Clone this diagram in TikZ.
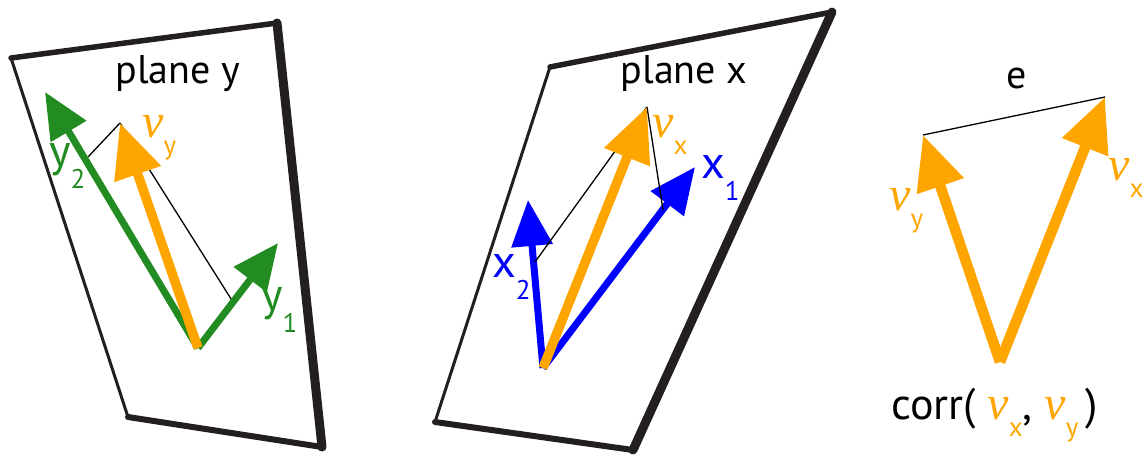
\documentclass[tikz,border=0pt]{standalone}
\usepackage{fontspec}
\setmainfont{PT Sans}
\newfontfamily\vecfont{Liberation Serif}
\usetikzlibrary{arrows.meta, positioning}
\definecolor{vorange}{RGB}{255,165,0}
\definecolor{ygreen}{RGB}{34,139,34}
\definecolor{xblue}{RGB}{0,0,255}
\definecolor{rimblack}{RGB}{35,31,32}
\tikzset{rim/.style={draw=rimblack,line cap=round,line join=round}}
\tikzset{proj/.style={draw=black,line width=1.3pt}}
\tikzset{vecg/.style={draw=ygreen,line width=7pt,-{Triangle[length=46pt,width=40pt]}}}
\tikzset{vecb/.style={draw=xblue,line width=7pt,-{Triangle[length=46pt,width=40pt]}}}
\tikzset{veco/.style={draw=vorange,line width=9.5pt,-{Triangle[length=54pt,width=47pt]}}}
\tikzset{lbl/.style={inner sep=0pt,anchor=base west}}
\newcommand{\vsub}[1]{{\vecfont\itshape\fontsize{48}{48}\selectfont v}\raisebox{-17pt}{\fontsize{27}{27}\selectfont #1}}
\newcommand{\ssub}[2]{{\fontsize{46}{46}\selectfont #1}\raisebox{-22pt}{\fontsize{27}{27}\selectfont #2}}

\begin{document}
\begin{tikzpicture}[x=1pt,y=-1pt]
\useasboundingbox (0,0) rectangle (1147,455);

% plane y
\coordinate (py1) at (11,58);
\coordinate (py2) at (277,23);
\coordinate (py3) at (322,447);
\coordinate (py4) at (128,417);
\draw[rim,line width=3pt] (py1) -- (py4);
\draw[rim,line width=5.5pt] (py1) -- (py2);
\draw[rim,line width=9pt] (py2) -- (py3);
\draw[rim,line width=6pt] (py4) -- (py3);
\node[anchor=base] at (178,83) (ty) {\fontsize{40}{40}\selectfont plane y};

\coordinate (oy) at (198,348);
\coordinate (y2) at (45,92);
\coordinate (y1) at (278,243);
\coordinate (vy) at (120,123);
\coordinate (fy2) at (88,157);
\coordinate (fy1) at (233,302);
\draw[proj] (vy) -- (fy2);
\draw[proj] (vy) -- (fy1);
\draw[vecg] (oy) -- (y2);
\draw[vecg] (oy) -- (y1);
\draw[veco] (oy) -- (vy);
\node[lbl,text=vorange] at (142,137) (lvy) {\vsub{y}};
\node[lbl,text=ygreen] at (49,166) (ly2) {\ssub{y}{2}};
\node[lbl,text=ygreen] at (261,310) (ly1) {\ssub{y}{1}};

% plane x
\coordinate (px1) at (550,67);
\coordinate (px2) at (832,12);
\coordinate (px3) at (633,450);
\coordinate (px4) at (435,422);
\draw[rim,line width=3pt] (px1) -- (px4);
\draw[rim,line width=5.5pt] (px1) -- (px2);
\draw[rim,line width=9pt] (px2) -- (px3);
\draw[rim,line width=6pt] (px4) -- (px3);
\node[anchor=base] at (684,83) (tx) {\fontsize{40}{40}\selectfont plane x};

\coordinate (ox) at (543,368);
\coordinate (x2) at (528,200);
\coordinate (x1) at (695,167);
\coordinate (vx) at (647,107);
\coordinate (fx1) at (663,210);
\coordinate (fx2) at (535,262);
\draw[vecb] (ox) -- (x2);
\draw[vecb] (ox) -- (x1);
\draw[proj] (vx) -- (fx1);
\draw[proj] (vx) -- (fx2);
\draw[veco] (ox) -- (vx);
\node[lbl,text=vorange] at (652,137) (lvx) {\vsub{x}};
\node[lbl,text=xblue] at (701,178) (lx1) {\ssub{x}{1}};
\node[lbl,text=xblue] at (492,277) (lx2) {\ssub{x}{2}};

% correlation
\coordinate (oc) at (1000,362);
\coordinate (cy) at (923,135);
\coordinate (cx) at (1105,97);
\draw[proj] (cy) -- (cx);
\draw[veco,line width=10.5pt] (oc) -- (cy);
\draw[veco,line width=10.5pt] (oc) -- (cx);
\node[anchor=base] at (1017,88) (te) {\fontsize{40}{40}\selectfont e};
\node[lbl,text=vorange] at (889,210) (lcy) {\vsub{y}};
\node[lbl,text=vorange] at (1108,180) (lcx) {\vsub{x}};
\node[lbl] at (891,419) (corr) {\fontsize{44}{44}\selectfont corr(
  {\color{vorange}\vsub{x}}, {\color{vorange}\vsub{y}}\,)};
\end{tikzpicture}
\end{document}
